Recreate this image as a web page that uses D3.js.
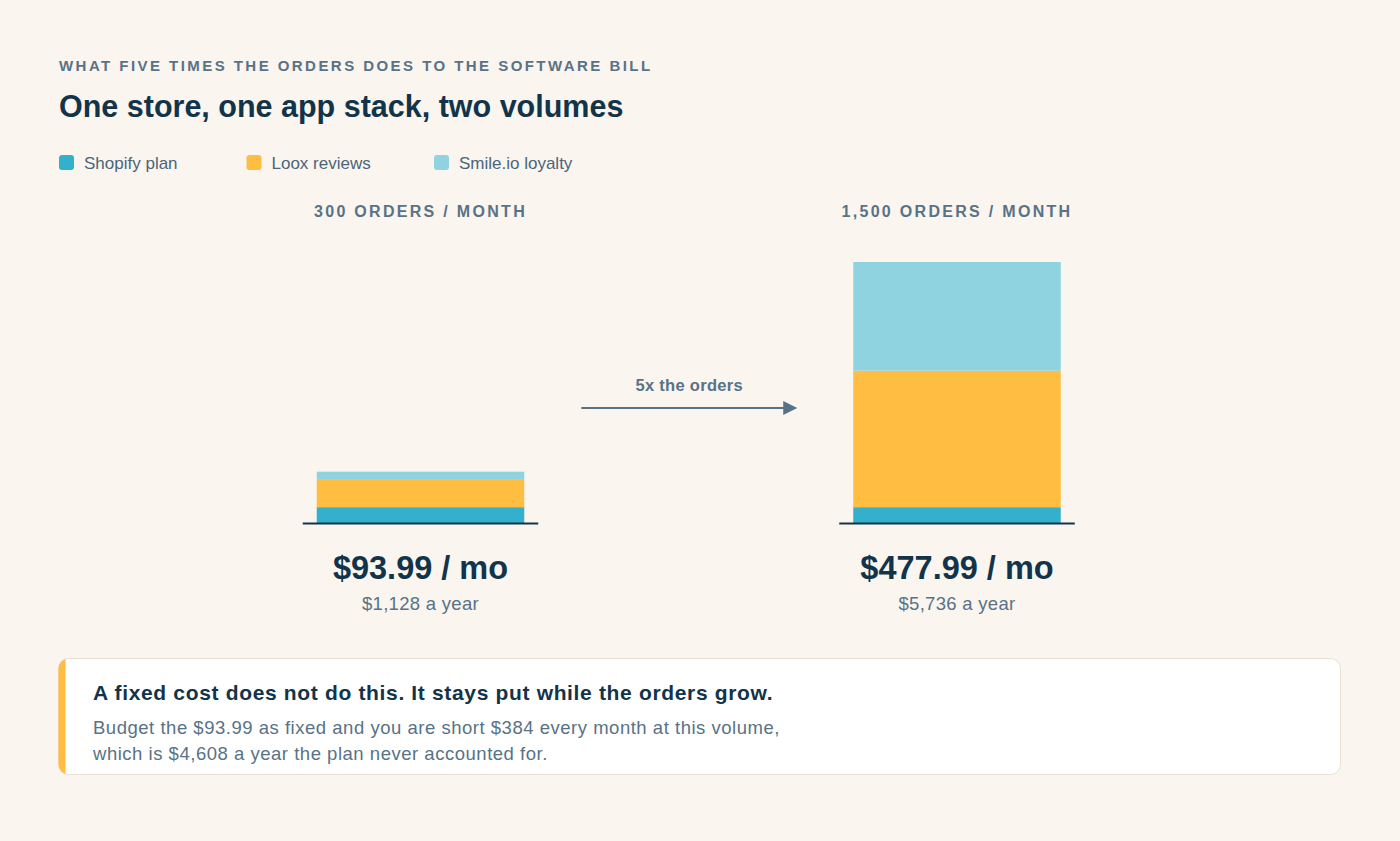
<!DOCTYPE html>
<html>
<head>
<meta charset="utf-8">
<script src="https://cdn.jsdelivr.net/npm/d3@7/dist/d3.min.js"></script>
<style>
  html, body { margin: 0; padding: 0; background: #faf5ef; }
  svg { display: block; font-family: "Liberation Sans", Arial, Helvetica, sans-serif; }
</style>
</head>
<body>
<svg id="chart" width="1400" height="841"></svg>
<script>
// ---- data ----
const scenarios = ["300 ORDERS / MONTH", "1,500 ORDERS / MONTH"];
const seriesNames = ["Shopify plan", "Loox reviews", "Smile.io loyalty"];
const shopify = [29, 29];
const loox = [49.99, 249.99];
const smile = [15, 199];
const monthlyLabels = ["$93.99 / mo", "$477.99 / mo"];
const yearlyLabels = ["$1,128 a year", "$5,736 a year"];
const arrowLabel = "5x the orders";
const eyebrow = "WHAT FIVE TIMES THE ORDERS DOES TO THE SOFTWARE BILL";
const title = "One store, one app stack, two volumes";
const calloutTitle = "A fixed cost does not do this. It stays put while the orders grow.";
const calloutBody = ["Budget the $93.99 as fixed and you are short $384 every month at this volume,",
                     "which is $4,608 a year the plan never accounted for."];

const colors = ["#33b1cc", "#ffbe42", "#90d3e0"];
const navy = "#12344a", slate = "#587286", legendText = "#4b6579";

const svg = d3.select("#chart");

// header
svg.append("text").attr("x", 59).attr("y", 70.5).text(eyebrow)
  .attr("font-size", 15).attr("font-weight", 700).attr("letter-spacing", 2.45).attr("fill", slate);
svg.append("text").attr("x", 59).attr("y", 116.5).text(title)
  .attr("font-size", 30.5).attr("font-weight", 700).attr("fill", navy);

// legend
const leg = svg.append("g").selectAll("g").data(seriesNames).join("g")
  .attr("transform", (d, i) => `translate(${59 + i * 187.5},155)`);
leg.append("rect").attr("width", 15).attr("height", 15).attr("rx", 3).attr("fill", (d, i) => colors[i]);
leg.append("text").attr("x", 25).attr("y", 13.5).text(d => d)
  .attr("font-size", 17).attr("fill", legendText);

// scales
const rows = scenarios.map((s, i) => ({ scenario: s, shopify: shopify[i], loox: loox[i], smile: smile[i] }));
const stack = d3.stack().keys(["shopify", "loox", "smile"])(rows);
const totals = rows.map(r => r.shopify + r.loox + r.smile);
const baseY = 523;
const y = d3.scaleLinear().domain([0, d3.max(totals)]).range([baseY, 262]);
const xc = d3.scalePoint().domain(scenarios).range([420.5, 957]);
const bw = 207.5;

// bars
svg.append("g").selectAll("g").data(stack).join("g")
  .attr("fill", (d, i) => colors[i])
  .selectAll("rect").data(d => d).join("rect")
  .attr("x", d => xc(d.data.scenario) - bw / 2)
  .attr("y", d => y(d[1]))
  .attr("width", bw)
  .attr("height", d => y(d[0]) - y(d[1]));

// baselines
svg.append("g").selectAll("line").data(scenarios).join("line")
  .attr("x1", d => xc(d) - bw / 2 - 14).attr("x2", d => xc(d) + bw / 2 + 14)
  .attr("y1", baseY + 0.5).attr("y2", baseY + 0.5)
  .attr("stroke", navy).attr("stroke-width", 2);

// scenario labels
svg.append("g").selectAll("text").data(scenarios).join("text")
  .attr("x", d => xc(d)).attr("y", 217).attr("text-anchor", "middle")
  .text(d => d).attr("font-size", 16).attr("font-weight", 700)
  .attr("letter-spacing", 2.3).attr("fill", slate);

// totals
svg.append("g").selectAll("text").data(monthlyLabels).join("text")
  .attr("x", (d, i) => xc(scenarios[i])).attr("y", 578.5).attr("text-anchor", "middle")
  .text(d => d).attr("font-size", 32.5).attr("font-weight", 700).attr("fill", navy);
svg.append("g").selectAll("text").data(yearlyLabels).join("text")
  .attr("x", (d, i) => xc(scenarios[i])).attr("y", 609.5).attr("text-anchor", "middle")
  .text(d => d).attr("font-size", 18.5).attr("letter-spacing", 0.3).attr("fill", slate);

// arrow
const ax1 = xc(scenarios[0]) + bw / 2 + 57, ax2 = xc(scenarios[1]) - bw / 2 - 56;
const ay = 408;
svg.append("line").attr("x1", ax1).attr("x2", ax2 - 12).attr("y1", ay).attr("y2", ay)
  .attr("stroke", slate).attr("stroke-width", 2);
svg.append("path").attr("d", `M${ax2 - 14},${ay - 7}L${ax2},${ay}L${ax2 - 14},${ay + 7}Z`).attr("fill", slate);
svg.append("text").attr("x", (ax1 + ax2) / 2).attr("y", 391).attr("text-anchor", "middle")
  .text(arrowLabel).attr("font-size", 16.5).attr("font-weight", 700).attr("letter-spacing", 0.3).attr("fill", slate);

// callout
const bx = 58.5, by = 658.5, bW = 1282, bH = 116, r = 10;
svg.append("defs").append("clipPath").attr("id", "cl").append("rect")
  .attr("x", bx).attr("y", by).attr("width", bW).attr("height", bH).attr("rx", r);
svg.append("rect").attr("x", bx).attr("y", by).attr("width", bW).attr("height", bH).attr("rx", r)
  .attr("fill", "#ffffff").attr("stroke", "#e9e0d5").attr("stroke-width", 1);
svg.append("rect").attr("x", bx - 1).attr("y", by - 1).attr("width", 8).attr("height", bH + 2)
  .attr("fill", "#ffbe42").attr("clip-path", "url(#cl)");
svg.append("text").attr("x", 93).attr("y", 699.5).text(calloutTitle)
  .attr("font-size", 21).attr("font-weight", 700).attr("letter-spacing", 0.66).attr("fill", navy);
svg.append("g").selectAll("text").data(calloutBody).join("text")
  .attr("x", 93).attr("y", (d, i) => 733.5 + i * 26).text(d => d)
  .attr("font-size", 18.5).attr("letter-spacing", 0.52).attr("fill", slate);
</script>
</body>
</html>
